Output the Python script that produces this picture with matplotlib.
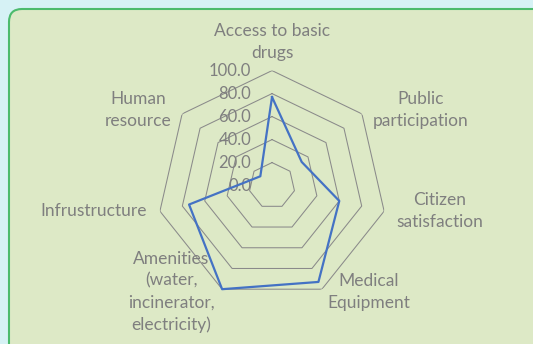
import numpy as np
import matplotlib
matplotlib.use("Agg")
import matplotlib.pyplot as plt
from matplotlib.patches import FancyBboxPatch
from matplotlib.transforms import IdentityTransform

plt.rcParams['font.family'] = ['Lato', 'DejaVu Sans']

# data
categories = ["Access to basic\ndrugs", "Public\nparticipation", "Citizen\nsatisfaction",
              "Medical\nEquipment", "Amenities\n(water,\nincinerator,\nelectricity)",
              "Infrustructure", "Human\nresource"]
values = [77, 33, 60, 93, 100, 74, 13]
rings = [20, 40, 60, 80, 100]
tick_labels = ["0.0", "20.0", "40.0", "60.0", "80.0", "100.0"]

# label positions (pixels from top-left) and alignment
label_pos = [(272, 42), (421, 110), (440, 211), (369, 292), (171, 292), (147, 211), (138, 110)]
label_ha = ["center", "center", "center", "center", "center", "right", "center"]

txt = "#7f7f7f"
fig = plt.figure(figsize=(5.33, 3.44), dpi=100)
fig.patch.set_facecolor("#d6f2f5")
box = FancyBboxPatch((9, -30), 560, 344 - 9 + 30, boxstyle="round,pad=0,rounding_size=13",
                     transform=IdentityTransform(), facecolor="#dde9c6", edgecolor="#4cbb6c",
                     linewidth=1.5, zorder=0)
fig.add_artist(box)

ax = fig.add_axes([0.2946, 0.126, 0.4315, 0.669], projection="polar")
ax.set_facecolor("none")
ax.set_theta_offset(np.pi / 2)
ax.set_theta_direction(-1)
ax.set_ylim(0, 100)
ax.grid(False)
ax.spines["polar"].set_visible(False)
ax.set_xticks([])
ax.set_yticks([])

n = len(categories)
ang = np.linspace(0, 2 * np.pi, n, endpoint=False)
ang_c = np.append(ang, ang[0])

for r in rings:
    ax.plot(ang_c, [r] * (n + 1), color="#8a8a8a", lw=0.75, zorder=1)

v = values + values[:1]
ax.plot(ang_c, v, color="#4472c4", lw=1.6, zorder=3, clip_on=False)

for i, t in enumerate(tick_labels):
    ax.annotate(t, xy=(0, i * 20), xytext=(-15, 0), textcoords="offset points",
                ha="right", va="center", fontsize=12, color=txt, zorder=2,
                annotation_clip=False)

for lab, (x, y), ha in zip(categories, label_pos, label_ha):
    fig.text(x / 533, 1 - y / 344, lab, ha=ha, va="center", multialignment="center",
             fontsize=12.5, color=txt, linespacing=1.45)

fig.savefig("out.png", dpi=100, facecolor=fig.get_facecolor())
